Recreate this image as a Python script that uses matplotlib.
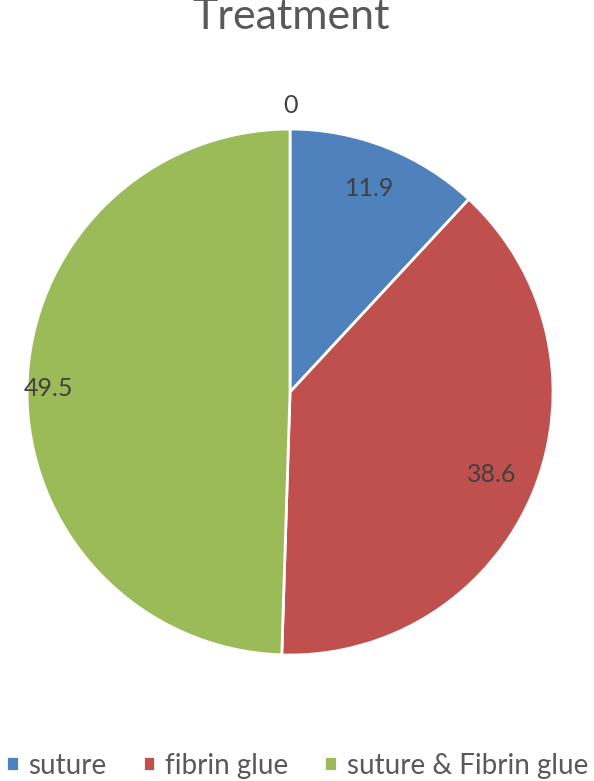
import matplotlib.pyplot as plt
import numpy as np

# data
categories = ['0', 'suture', 'fibrin glue', 'suture & Fibrin glue']
values = [0, 11.9, 38.6, 49.5]
labels = ['0', '11.9', '38.6', '49.5']
colors = ['#4F81BD', '#4F81BD', '#C0504D', '#9BBB59']
label_dist = [1.09, 0.83, 0.83, 0.92]

plt.rcParams['font.family'] = ['Lato', 'DejaVu Sans']

fig = plt.figure(figsize=(5.94, 7.81), dpi=100)
ax = fig.add_axes([0.0455, 0.1613, 0.8855, 0.6735])

wedges, _ = ax.pie(values, colors=colors, startangle=90, counterclock=False,
                   radius=1, wedgeprops=dict(edgecolor='white', linewidth=2))

for w, lab, d in zip(wedges, labels, label_dist):
    ang = np.deg2rad((w.theta1 + w.theta2) / 2)
    ax.text(d * np.cos(ang), d * np.sin(ang), lab, ha='center', va='center',
            fontsize=18, color='#404040')

ax.set_xlim(-1, 1)
ax.set_ylim(-1, 1)
ax.axis('off')

fig.text(0.49, 0.9629, 'Treatment', ha='center', va='baseline',
         fontsize=31, color='#595959')

fig.legend(wedges[1:], categories[1:], loc='lower center', ncol=3,
           bbox_to_anchor=(0.5, -0.022), frameon=False, fontsize=20,
           labelcolor='#595959', handlelength=0.45, handleheight=0.45,
           handletextpad=0.35, columnspacing=1.3, borderpad=0.2)

fig.savefig('out.png', dpi=100)
